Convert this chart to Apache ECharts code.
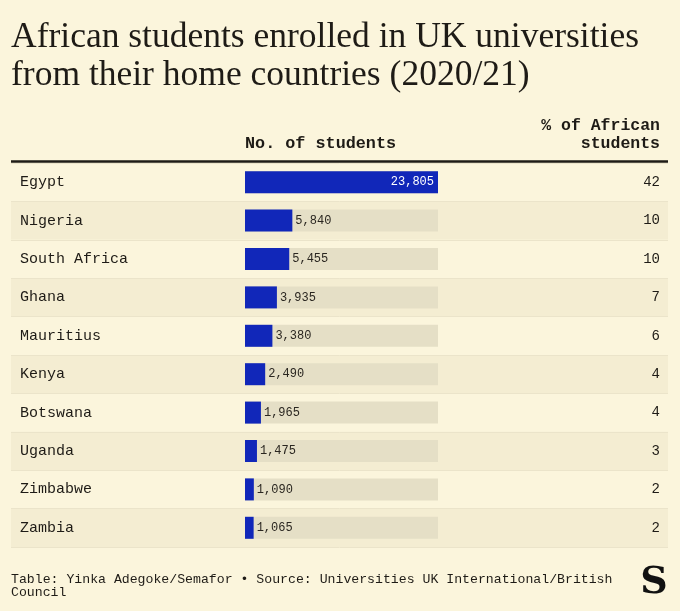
<!DOCTYPE html>
<html><head><meta charset="utf-8">
<script src="https://cdn.jsdelivr.net/npm/echarts@6/dist/echarts.min.js"></script>
<style>html,body{margin:0;padding:0;background:#fbf5dc;}#c{width:680px;height:611px;}</style>
</head><body><div id="c"></div>
<script>
const countries = ['Egypt','Nigeria','South Africa','Ghana','Mauritius','Kenya','Botswana','Uganda','Zimbabwe','Zambia'];
const students = [23805,5840,5455,3935,3380,2490,1965,1475,1090,1065];
const share = [42,10,10,7,6,4,4,3,2,2];
const titleLines = ['African students enrolled in UK universities', 'from their home countries (2020/21)'];

const MONO = '"Liberation Mono", "DejaVu Sans Mono", monospace';
const SERIF = '"Liberation Serif", serif';
const chart = echarts.init(document.getElementById('c'));
const fmt = v => v.toLocaleString('en-US');
const TOP = 163, H = 384;
chart.setOption({
  backgroundColor: '#fbf5dc',
  grid: [
    { left: 11, width: 657, top: TOP, height: H },
    { left: 245, width: 193, top: TOP, height: H }
  ],
  xAxis: [
    { gridIndex: 0, type: 'value', show: false, min: 0, max: 1 },
    { gridIndex: 1, type: 'value', show: false, min: 0, max: 23805 }
  ],
  yAxis: [
    { gridIndex: 0, type: 'category', data: countries, inverse: true,
      axisLine: { show: false }, axisTick: { show: false }, axisLabel: { show: false },
      splitArea: { show: true, areaStyle: { color: ['#fbf5dc', '#f4edd2'] } },
      splitLine: { show: true, lineStyle: { color: '#ebe4ca', width: 1 } } },
    { gridIndex: 1, type: 'category', data: countries, inverse: true,
      axisLine: { show: false }, axisTick: { show: false },
      axisLabel: { align: 'left', margin: 225, fontFamily: MONO, fontSize: 15, color: '#1e1b16' } },
    { gridIndex: 1, type: 'category', data: share.map(String), inverse: true, position: 'right',
      axisLine: { show: false }, axisTick: { show: false },
      axisLabel: { align: 'right', margin: 222, fontFamily: MONO, fontSize: 14, color: '#1e1b16' } }
  ],
  series: [
    { type: 'bar', xAxisIndex: 1, yAxisIndex: 1, barWidth: 22,
      data: students.map((v, i) => i === 0 ? {
        value: v,
        label: { position: 'insideRight', color: '#ffffff', distance: 4 }
      } : v),
      itemStyle: { color: '#1127b9' },
      showBackground: true, backgroundStyle: { color: '#e5dfc6' },
      label: { show: true, position: 'right', distance: 3, fontFamily: MONO, fontSize: 12, color: '#2a2620',
        formatter: p => fmt(p.value) },
      silent: true, animation: false }
  ],
  graphic: [
    { type: 'text', x: 11, y: 38, style: { text: titleLines[0], font: '35.5px ' + SERIF, fill: '#1e1b16', verticalAlign: 'middle' } },
    { type: 'text', x: 11, y: 75.6, style: { text: titleLines[1], font: '35.5px ' + SERIF, fill: '#1e1b16', verticalAlign: 'middle' } },
    { type: 'text', x: 245, y: 144, style: { text: 'No. of students', font: 'bold 16.8px ' + MONO, fill: '#1e1b16', verticalAlign: 'middle' } },
    { type: 'text', x: 660, y: 126, style: { text: '% of African', font: 'bold 16.5px ' + MONO, fill: '#1e1b16', align: 'right', verticalAlign: 'middle' } },
    { type: 'text', x: 660, y: 144, style: { text: 'students', font: 'bold 16.5px ' + MONO, fill: '#1e1b16', align: 'right', verticalAlign: 'middle' } },
    { type: 'line', shape: { x1: 11, y1: 161.5, x2: 668, y2: 161.5 }, style: { stroke: '#1e1b16', lineWidth: 2.5 } },
    { type: 'text', x: 11, y: 580, style: { text: 'Table: Yinka Adegoke/Semafor \u2022 Source: Universities UK International/British', font: '13.2px ' + MONO, fill: '#1e1b16', verticalAlign: 'middle' } },
    { type: 'text', x: 11, y: 593, style: { text: 'Council', font: '13.2px ' + MONO, fill: '#1e1b16', verticalAlign: 'middle' } },
    { type: 'text', x: 654, y: 583, style: { text: 'S', font: 'bold 38px "DejaVu Serif", serif', fill: '#111', align: 'center', verticalAlign: 'middle' } }
  ]
});
</script></body></html>
